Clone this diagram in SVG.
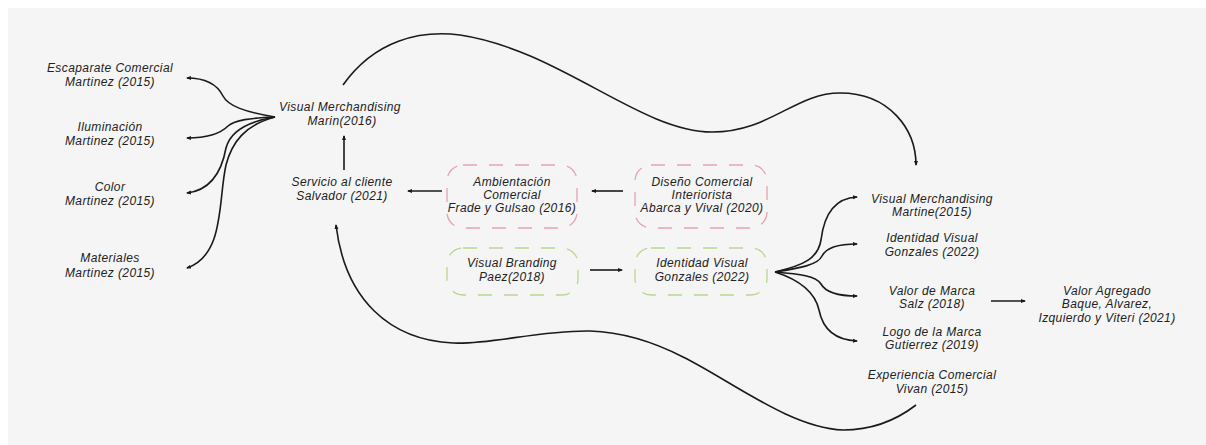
<svg xmlns="http://www.w3.org/2000/svg" width="1206" height="445" viewBox="0 0 1206 445">
<defs>
<style>
text{font-family:"Liberation Sans",Arial,sans-serif;font-style:italic;font-size:12px;fill:#222;letter-spacing:0.4px;text-anchor:middle}
.c{fill:none;stroke:#1a1a1a;stroke-width:1.6}
.pink{fill:none;stroke:#e6a3b2;stroke-width:1.3;stroke-dasharray:14 12}
.green{fill:none;stroke:#b9d68f;stroke-width:1.3;stroke-dasharray:14 12}
</style>
<marker id="ah" viewBox="0 0 10 10" refX="8" refY="5" markerWidth="5" markerHeight="5" orient="auto-start-reverse" markerUnits="userSpaceOnUse">
<path d="M0,1 L10,5 L0,9 z" fill="#1a1a1a"/>
</marker>
</defs>
<rect x="0" y="0" width="1206" height="445" fill="#ffffff"/>
<rect x="8" y="8" width="1198" height="437" fill="#f5f5f5"/>

<g id="connectors">
<path class="c" marker-end="url(#ah)" d="M275,117 C245,112 228,106 223,96 C217,84 205,78 187,78"/>
<path class="c" marker-end="url(#ah)" d="M275,117 C250,118 235,120 228,126 C222,132 210,138 187,138"/>
<path class="c" marker-end="url(#ah)" d="M275,117 C245,122 230,132 226,148 C222,170 212,190 187,193"/>
<path class="c" marker-end="url(#ah)" d="M275,117 C245,125 232,142 226,165 C218,200 225,255 187,268"/>
<path class="c" marker-end="url(#ah)" d="M344,170 L344,136"/>
<path class="c" marker-end="url(#ah)" d="M343,85 C375,40 420,30 460,35 C560,50 640,132 712,132 C770,132 795,93 840,93 C890,93 916,130 916,165"/>
<path class="c" marker-end="url(#ah)" d="M916,405 C890,425 865,430 843,430 C790,428 730,380 683,357 C650,340 620,332 590,331 C540,330 490,345 453,343 C390,340 345,300 336,225"/>
<path class="c" marker-end="url(#ah)" d="M442,191 L408,191"/>
<path class="c" marker-end="url(#ah)" d="M623,191 L592,191"/>
<path class="c" marker-end="url(#ah)" d="M590,270 L622,270"/>
<path class="c" marker-end="url(#ah)" d="M775,272 C805,265 818,258 821,240 C824,215 835,198 857,197"/>
<path class="c" marker-end="url(#ah)" d="M775,272 C800,268 818,265 822,256 C826,248 838,244 857,244"/>
<path class="c" marker-end="url(#ah)" d="M775,272 C800,274 816,276 821,284 C826,293 838,296 857,296"/>
<path class="c" marker-end="url(#ah)" d="M775,272 C800,280 815,292 819,310 C823,330 835,340 857,341"/>
<path class="c" marker-end="url(#ah)" d="M991,301 L1025,301"/>
</g>

<g id="escaparate"><text x="110" y="72">Escaparate Comercial</text><text x="110" y="86">Martinez (2015)</text></g>
<g id="iluminacion"><text x="110" y="131">Iluminación</text><text x="110" y="145">Martinez (2015)</text></g>
<g id="color"><text x="110" y="191">Color</text><text x="110" y="205">Martinez (2015)</text></g>
<g id="materiales"><text x="110" y="262">Materiales</text><text x="110" y="277">Martinez (2015)</text></g>
<g id="vm-marin"><text x="340" y="111">Visual Merchandising</text><text x="342" y="125">Marin(2016)</text></g>
<g id="servicio"><text x="342" y="186">Servicio al cliente</text><text x="342" y="200">Salvador (2021)</text></g>

<g id="ambientacion"><rect class="pink" x="447" y="165" width="130" height="63" rx="16"/><text x="512" y="186">Ambientación</text><text x="512" y="199">Comercial</text><text x="512" y="212">Frade y Gulsao (2016)</text></g>
<g id="diseno"><rect class="pink" x="635" y="165" width="132" height="63" rx="16"/><text x="702" y="186">Diseño Comercial</text><text x="702" y="199">Interiorista</text><text x="702" y="212">Abarca y Vival (2020)</text></g>
<g id="branding"><rect class="green" x="447" y="248" width="131" height="47" rx="16"/><text x="512" y="267">Visual Branding</text><text x="512" y="281">Paez(2018)</text></g>
<g id="identidad"><rect class="green" x="635" y="248" width="132" height="47" rx="16"/><text x="702" y="267">Identidad Visual</text><text x="702" y="281">Gonzales (2022)</text></g>

<g id="vm-martine"><text x="932" y="203">Visual Merchandising</text><text x="932" y="216">Martine(2015)</text></g>
<g id="identidad-visual"><text x="932" y="242">Identidad Visual</text><text x="932" y="256">Gonzales (2022)</text></g>
<g id="valor-marca"><text x="932" y="295">Valor de Marca</text><text x="932" y="308">Salz (2018)</text></g>
<g id="valor-agregado"><text x="1107" y="295">Valor Agregado</text><text x="1107" y="308">Baque, Alvarez,</text><text x="1107" y="322">Izquierdo y Viteri (2021)</text></g>
<g id="logo"><text x="932" y="336">Logo de la Marca</text><text x="932" y="349">Gutierrez (2019)</text></g>
<g id="experiencia"><text x="932" y="379">Experiencia Comercial</text><text x="932" y="393">Vivan (2015)</text></g>
</svg>
